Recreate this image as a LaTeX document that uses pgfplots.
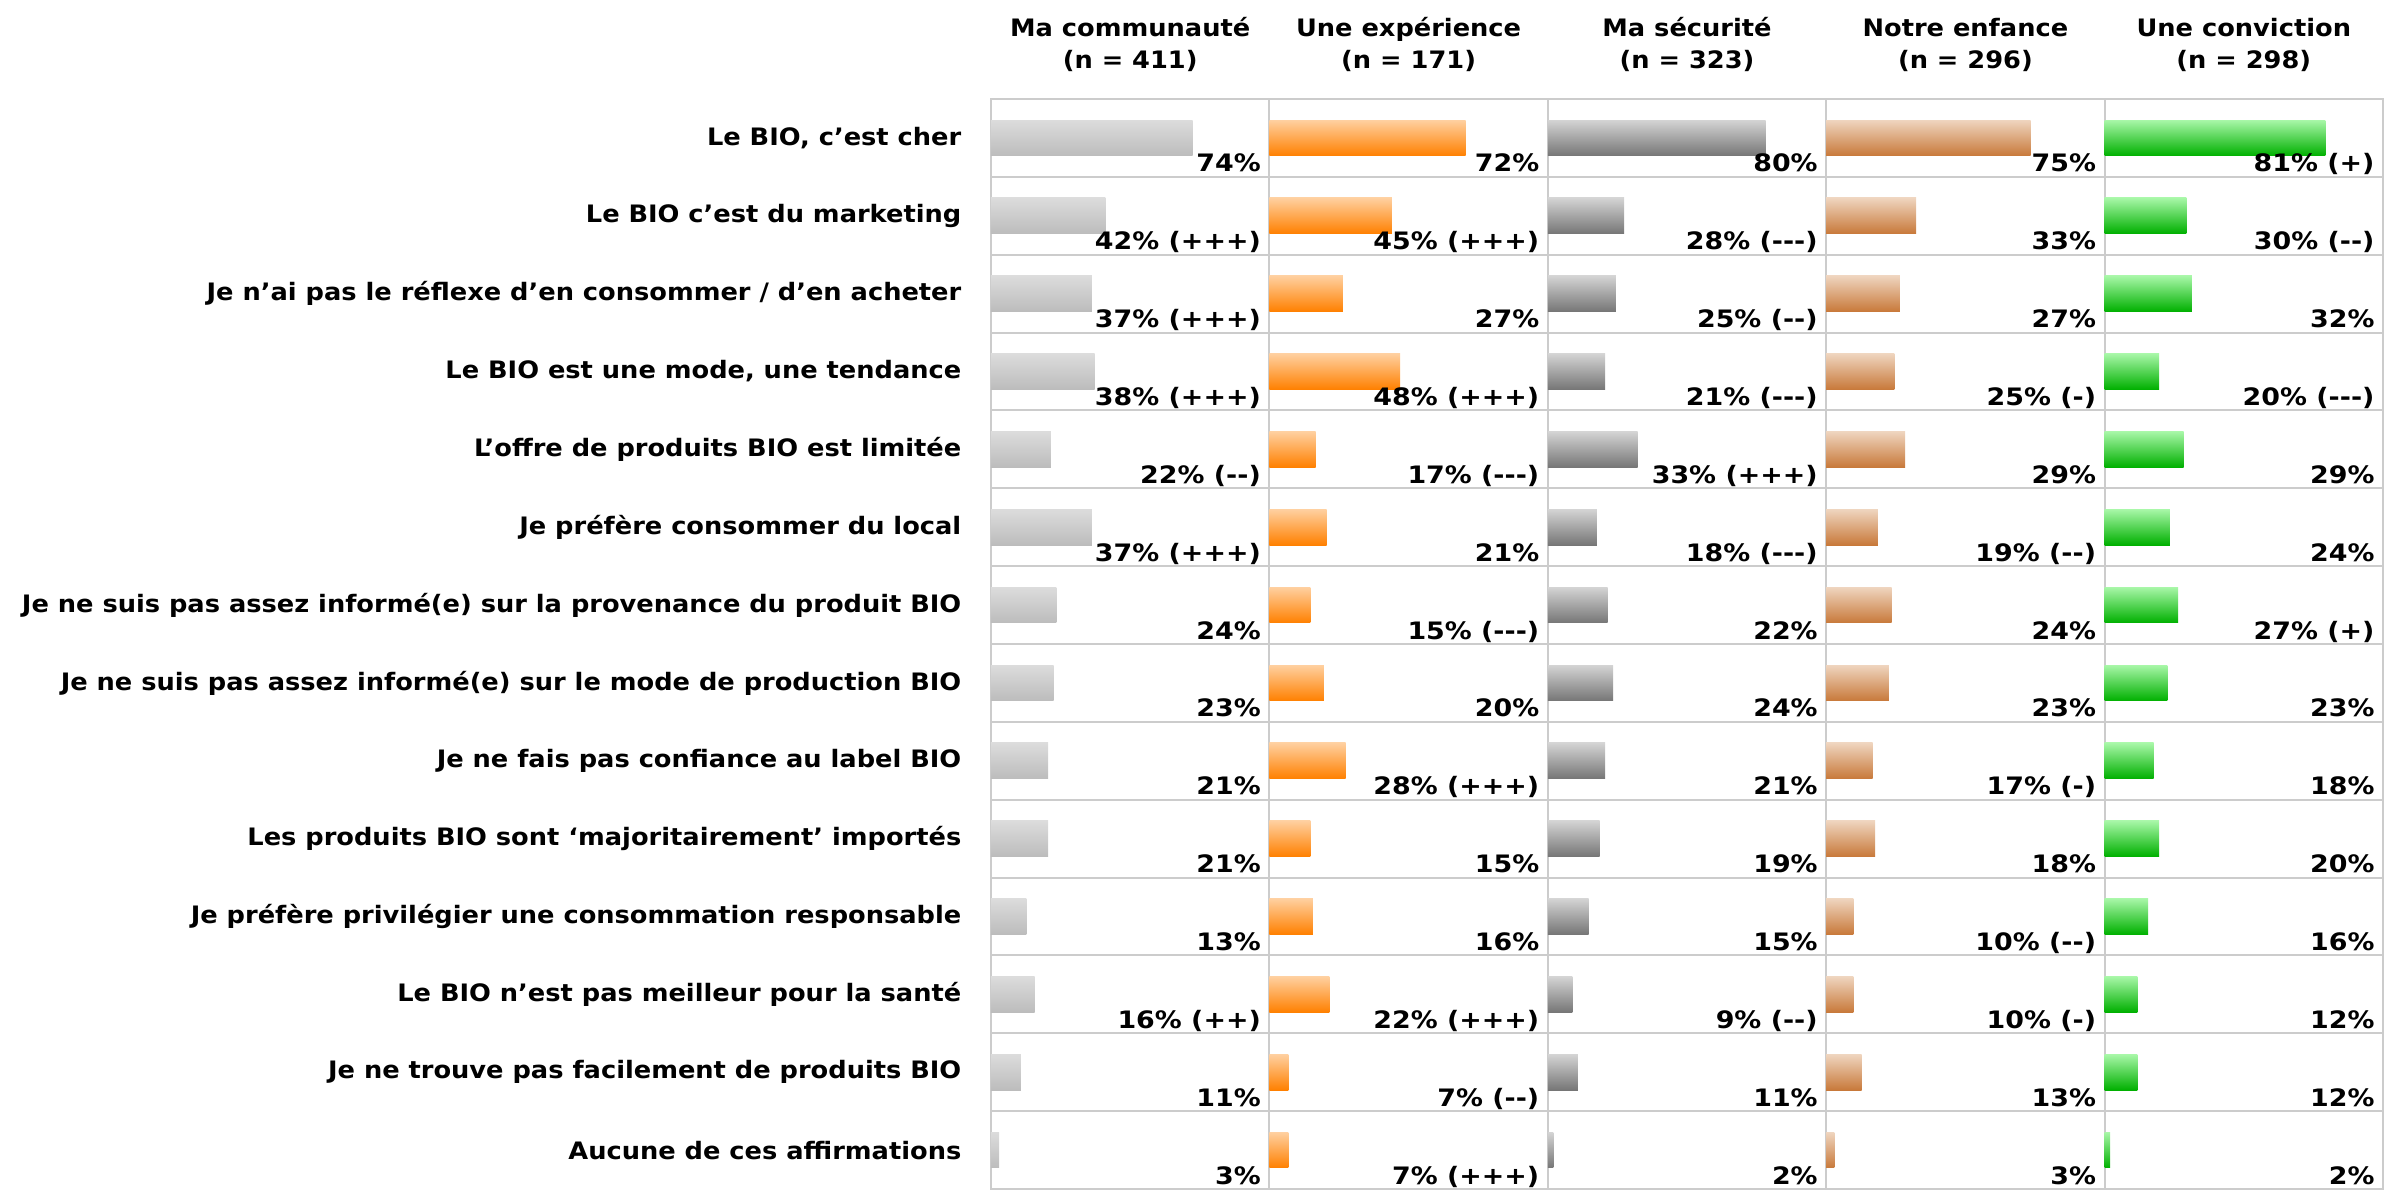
\documentclass[border=0pt]{standalone}
\usepackage{fontspec}
\usepackage{pgfplots}
\pgfplotsset{compat=1.18}
\usepackage{pgfplotstable}
\newfontfamily\dv{DejaVu Sans}[FakeStretch=1.07]
\newfontfamily\dvw{DejaVu Sans}[FakeStretch=1.12]
\newcommand\m{\mbox{-}}
\newcommand\lf{\dv\bfseries\fontsize{7.2}{9.6}\selectfont}
\newcommand\vf{\dvw\bfseries\fontsize{7.2}{9.6}\selectfont}

\definecolor{aT}{HTML}{DCDCDC}\definecolor{aB}{HTML}{BCBCBC}
\definecolor{bT}{HTML}{FFD0A0}\definecolor{bB}{HTML}{FF8000}
\definecolor{cT}{HTML}{D4D4D4}\definecolor{cB}{HTML}{767676}
\definecolor{dT}{HTML}{EFD5BF}\definecolor{dB}{HTML}{C8793A}
\definecolor{eT}{HTML}{A8F7A8}\definecolor{eB}{HTML}{00B000}

\pgfplotstableread[col sep=comma]{
y,v,lab
1,74,74\%
2,42,42\% (+++)
3,37,37\% (+++)
4,38,38\% (+++)
5,22,22\% (\m\m)
6,37,37\% (+++)
7,24,24\%
8,23,23\%
9,21,21\%
10,21,21\%
11,13,13\%
12,16,16\% (++)
13,11,11\%
14,3,3\%
}\tA
\pgfplotstableread[col sep=comma]{
y,v,lab
1,72,72\%
2,45,45\% (+++)
3,27,27\%
4,48,48\% (+++)
5,17,17\% (\m\m\m)
6,21,21\%
7,15,15\% (\m\m\m)
8,20,20\%
9,28,28\% (+++)
10,15,15\%
11,16,16\%
12,22,22\% (+++)
13,7,7\% (\m\m)
14,7,7\% (+++)
}\tB
\pgfplotstableread[col sep=comma]{
y,v,lab
1,80,80\%
2,28,28\% (\m\m\m)
3,25,25\% (\m\m)
4,21,21\% (\m\m\m)
5,33,33\% (+++)
6,18,18\% (\m\m\m)
7,22,22\%
8,24,24\%
9,21,21\%
10,19,19\%
11,15,15\%
12,9,9\% (\m\m)
13,11,11\%
14,2,2\%
}\tC
\pgfplotstableread[col sep=comma]{
y,v,lab
1,75,75\%
2,33,33\%
3,27,27\%
4,25,25\% (\m)
5,29,29\%
6,19,19\% (\m\m)
7,24,24\%
8,23,23\%
9,17,17\% (\m)
10,18,18\%
11,10,10\% (\m\m)
12,10,10\% (\m)
13,13,13\%
14,3,3\%
}\tD
\pgfplotstableread[col sep=comma]{
y,v,lab
1,81,81\% (+)
2,30,30\% (\m\m)
3,32,32\%
4,20,20\% (\m\m\m)
5,29,29\%
6,24,24\%
7,27,27\% (+)
8,23,23\%
9,18,18\%
10,20,20\%
11,16,16\%
12,12,12\%
13,12,12\%
14,2,2\%
}\tE

\pgfplotsset{panel/.style={
  scale only axis, width=83.52pt, height=327pt,
  xmin=0, xmax=102.2, ymin=0.5, ymax=14.5, y dir=reverse,
  enlargelimits=false,
  xtick=\empty, ytick=\empty,
  extra y ticks={1.5,2.5,...,13.5},
  extra y tick labels={},
  extra y tick style={grid=major},
  major tick length=0pt,
  major grid style={draw=black!20, line width=0.6pt},
  axis line style={draw=black!20, line width=0.6pt},
  clip=false,
  anchor=north west,
  every axis title/.style={align=center, font=\lf, at={(0.5,1)}, anchor=south, inner sep=0pt, yshift=8.1pt},
}}

\newcommand\bars[3]{%
  \pgfplotsinvokeforeach{1,...,14}{%
    \addplot[xbar, bar shift=0pt, bar width=0.46, draw=none, top color=#2, bottom color=#3,
      restrict y to domain=##1:##1] table[x=v, y=y]{#1};
  }
  \addplot[draw=none, mark=none, nodes near coords, point meta=explicit symbolic,
    every node near coord/.style={anchor=base east, inner sep=0pt, font=\vf, text=black}]
    table[x expr=99.3, y expr=\thisrow{y}+0.436, meta=lab]{#1};
}

\begin{document}
\begin{tikzpicture}
\path[use as bounding box] (0,0) rectangle (715.8pt,-357.6pt);
\begin{axis}[panel, at={(297.3pt,-29.7pt)}, title={Ma communauté\\(n = 411)},
  ytick={1,...,14},
  yticklabels={{Le BIO, c’est cher},{Le BIO c’est du marketing},{Je n’ai pas le réflexe d’en consommer / d’en acheter},{Le BIO est une mode, une tendance},{L’offre de produits BIO est limitée},{Je préfère consommer du local},{Je ne suis pas assez informé(e) sur la provenance du produit BIO},{Je ne suis pas assez informé(e) sur le mode de production BIO},{Je ne fais pas confiance au label BIO},{Les produits BIO sont ‘majoritairement’ importés},{Je préfère privilégier une consommation responsable},{Le BIO n’est pas meilleur pour la santé},{Je ne trouve pas facilement de produits BIO},{Aucune de ces affirmations}},
  yticklabel style={font=\lf, anchor=east, inner sep=0pt, xshift=-8.7pt}]
\bars{\tA}{aT}{aB}
\end{axis}
\begin{axis}[panel, at={(380.82pt,-29.7pt)}, title={Une expérience\\(n = 171)}]
\bars{\tB}{bT}{bB}
\end{axis}
\begin{axis}[panel, at={(464.34pt,-29.7pt)}, title={Ma sécurité\\(n = 323)}]
\bars{\tC}{cT}{cB}
\end{axis}
\begin{axis}[panel, at={(547.86pt,-29.7pt)}, title={Notre enfance\\(n = 296)}]
\bars{\tD}{dT}{dB}
\end{axis}
\begin{axis}[panel, at={(631.38pt,-29.7pt)}, title={Une conviction\\(n = 298)}]
\bars{\tE}{eT}{eB}
\end{axis}
\end{tikzpicture}
\end{document}
